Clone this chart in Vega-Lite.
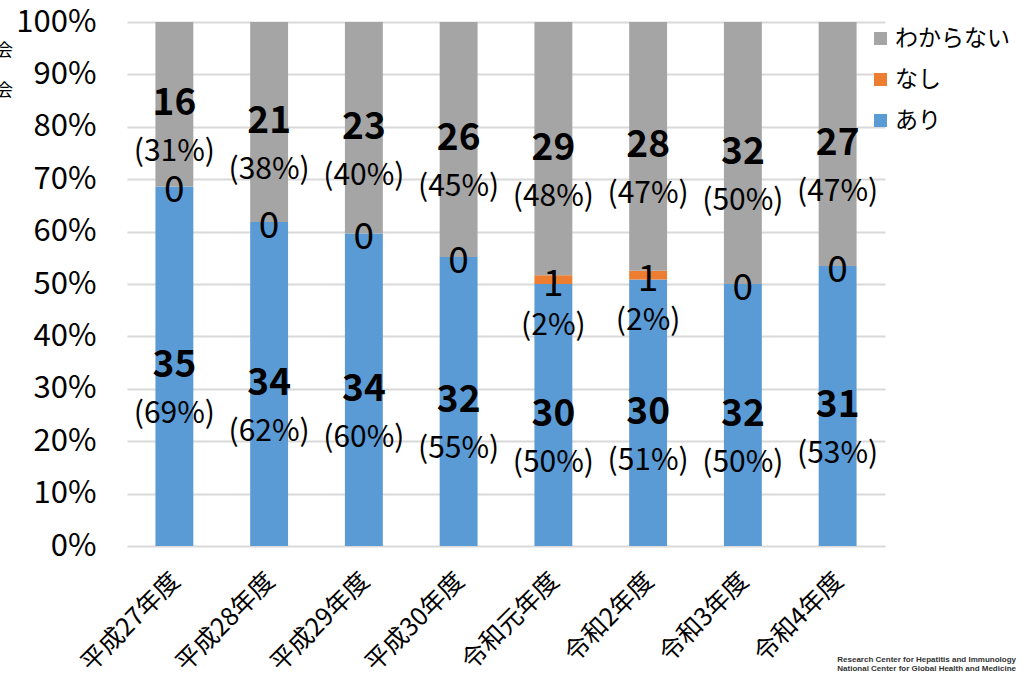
{
  "$schema": "https://vega.github.io/schema/vega-lite/v6.json",
  "width": 758,
  "height": 524,
  "autosize": {"type": "none"},
  "padding": {"left": 127, "top": 22, "right": 151, "bottom": 132},
  "background": "white",
  "config": {
    "font": "Noto Sans CJK JP",
    "view": {"stroke": null}
  },
  "title": {
    "text": "Research Center for Hepatitis and Immunology",
    "subtitle": "National Center for Global Health and Medicine",
    "orient": "bottom",
    "anchor": "end",
    "frame": "bounds",
    "fontSize": 8,
    "subtitleFontSize": 8,
    "fontWeight": "bold",
    "subtitleFontWeight": "bold",
    "font": "Liberation Sans",
    "subtitleFont": "Liberation Sans",
    "color": "#333333",
    "subtitleColor": "#333333",
    "subtitlePadding": 1,
    "offset": -20,
    "dx": 6
  },
  "data": {
    "values": [
      {"year": "平成27年度", "cat": "あり", "n": 35},
      {"year": "平成27年度", "cat": "なし", "n": 0},
      {"year": "平成27年度", "cat": "わからない", "n": 16},
      {"year": "平成28年度", "cat": "あり", "n": 34},
      {"year": "平成28年度", "cat": "なし", "n": 0},
      {"year": "平成28年度", "cat": "わからない", "n": 21},
      {"year": "平成29年度", "cat": "あり", "n": 34},
      {"year": "平成29年度", "cat": "なし", "n": 0},
      {"year": "平成29年度", "cat": "わからない", "n": 23},
      {"year": "平成30年度", "cat": "あり", "n": 32},
      {"year": "平成30年度", "cat": "なし", "n": 0},
      {"year": "平成30年度", "cat": "わからない", "n": 26},
      {"year": "令和元年度", "cat": "あり", "n": 30},
      {"year": "令和元年度", "cat": "なし", "n": 1},
      {"year": "令和元年度", "cat": "わからない", "n": 29},
      {"year": "令和2年度", "cat": "あり", "n": 30},
      {"year": "令和2年度", "cat": "なし", "n": 1},
      {"year": "令和2年度", "cat": "わからない", "n": 28},
      {"year": "令和3年度", "cat": "あり", "n": 32},
      {"year": "令和3年度", "cat": "なし", "n": 0},
      {"year": "令和3年度", "cat": "わからない", "n": 32},
      {"year": "令和4年度", "cat": "あり", "n": 31},
      {"year": "令和4年度", "cat": "なし", "n": 0},
      {"year": "令和4年度", "cat": "わからない", "n": 27}
    ]
  },
  "transform": [
    {"stack": "n", "groupby": ["year"], "sort": [{"field": "cat", "order": "ascending"}], "offset": "normalize", "as": ["lo", "hi"]},
    {"calculate": "(datum.lo + datum.hi) / 2", "as": "mid"},
    {"calculate": "'(' + format(datum.hi - datum.lo, '.0%') + ')'", "as": "pct"}
  ],
  "encoding": {
    "x": {
      "field": "year",
      "type": "nominal",
      "sort": null,
      "title": null,
      "scale": {"paddingInner": 0.6, "paddingOuter": 0.3},
      "axis": {
        "labelAngle": -45,
        "labelFontSize": 25,
        "labelColor": "#000000",
        "labelPadding": 22,
        "labelOffset": -7,
        "ticks": false,
        "domain": false
      }
    }
  },
  "layer": [
    {
      "mark": {"type": "bar"},
      "encoding": {
        "y": {
          "field": "lo",
          "type": "quantitative",
          "scale": {"domain": [0, 1], "nice": false},
          "title": ["会", "会"],
          "axis": {
            "format": ".0%",
            "values": [0, 0.1, 0.2, 0.3, 0.4, 0.5, 0.6, 0.7, 0.8, 0.9, 1],
            "labelFontSize": 31,
            "labelColor": "#000000",
            "labelPadding": 31,
            "ticks": false,
            "domain": false,
            "grid": true,
            "gridColor": "#D9D9D9",
            "gridWidth": 2,
            "titleAngle": 0,
            "titleFontSize": 17,
            "titleFontWeight": "normal",
            "titleColor": "#000000",
            "titleLineHeight": 40,
            "titleAlign": "center",
            "titleBaseline": "middle",
            "titleX": -123,
            "titleY": 28
          }
        },
        "y2": {"field": "hi"},
        "color": {
          "field": "cat",
          "type": "nominal",
          "scale": {"domain": ["わからない", "なし", "あり"], "range": ["#A5A5A5", "#ED7D31", "#5B9BD5"]},
          "legend": {
            "title": null,
            "orient": "none",
            "legendX": 742,
            "legendY": 5,
            "symbolType": "square",
            "symbolSize": 169,
            "symbolStrokeWidth": 0,
            "labelFontSize": 23,
            "labelColor": "#000000",
            "labelOffset": 3,
            "rowPadding": 17
          }
        }
      }
    },
    {
      "transform": [{"filter": "datum.cat != 'なし'"}],
      "mark": {"type": "text", "fontSize": 37, "fontWeight": "bold", "baseline": "middle", "color": "#000000"},
      "encoding": {
        "y": {"field": "mid", "type": "quantitative"},
        "text": {"field": "n", "type": "quantitative"}
      }
    },
    {
      "transform": [{"filter": "datum.cat != 'なし'"}],
      "mark": {"type": "text", "fontSize": 30, "baseline": "middle", "dy": 48, "color": "#000000"},
      "encoding": {
        "y": {"field": "mid", "type": "quantitative"},
        "text": {"field": "pct", "type": "nominal"}
      }
    },
    {
      "transform": [{"filter": "datum.cat == 'なし'"}],
      "mark": {"type": "text", "fontSize": 37, "baseline": "middle", "dy": 5, "color": "#000000"},
      "encoding": {
        "y": {"field": "mid", "type": "quantitative"},
        "text": {"field": "n", "type": "quantitative"}
      }
    },
    {
      "transform": [{"filter": "datum.cat == 'なし' && datum.n > 0"}],
      "mark": {"type": "text", "fontSize": 30, "baseline": "middle", "dy": 46, "color": "#000000"},
      "encoding": {
        "y": {"field": "mid", "type": "quantitative"},
        "text": {"field": "pct", "type": "nominal"}
      }
    }
  ]
}
